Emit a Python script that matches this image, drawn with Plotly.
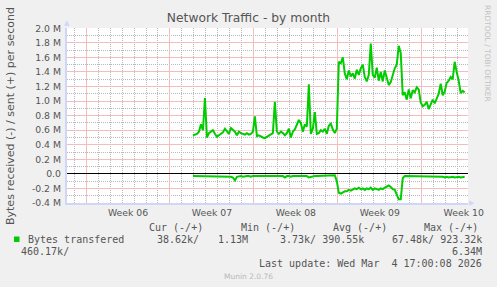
import plotly.graph_objects as go

# ---------------- data ----------------
week_labels = ["Week 06", "Week 07", "Week 08", "Week 09", "Week 10"]
week_start_days = [0, 7, 14, 21, 28]          # days since start of Week 06
day_grid = [d for d in range(-1, 32) if d not in week_start_days]

y_tick_vals = [-0.4, -0.2, 0.0, 0.2, 0.4, 0.6, 0.8, 1.0, 1.2, 1.4, 1.6, 1.8, 2.0]
y_tick_text = ["-0.4 M", "-0.2 M", "0.0", "0.2 M", "0.4 M", "0.6 M", "0.8 M",
               "1.0 M", "1.2 M", "1.4 M", "1.6 M", "1.8 M", "2.0 M"]
y_minor_vals = [-0.3, -0.1, 0.1, 0.3, 0.5, 0.7, 0.9, 1.1, 1.3, 1.5, 1.7, 1.9]

sample_start_hour = 214      # first sample: hours after start of Week 06
sample_step_hours = 4

# bytes sent per second (+), in millions
sent_M = [
    0.53, 0.54, 0.55, 0.58, 0.68, 0.60, 1.04, 0.50, 0.56, 0.58,
    0.60, 0.55, 0.51, 0.53, 0.55, 0.57, 0.62, 0.58, 0.55, 0.63,
    0.60, 0.58, 0.53, 0.58, 0.56, 0.55, 0.54, 0.56, 0.54, 0.55,
    0.58, 0.79, 0.52,
    0.53, 0.51, 0.50, 0.49, 0.51, 0.52, 0.54, 0.56, 0.99, 0.58,
    0.55, 0.58, 0.56, 0.53, 0.56, 0.62, 0.50, 0.58, 0.61, 0.68,
    0.74, 0.70, 0.58, 0.68, 0.65, 1.23, 0.55, 0.62, 0.85, 0.55,
    0.56, 0.60, 0.58, 0.62, 0.55, 0.66,
    0.69, 0.61, 0.56, 0.62, 1.54, 1.52, 1.60, 1.38, 1.30, 1.42,
    1.34, 1.38, 1.31, 1.43, 1.36, 1.45, 1.50, 1.33, 1.27, 1.36,
    1.79, 1.36, 1.32, 1.46, 1.28, 1.40, 1.27, 1.42, 1.30, 1.22,
    1.26, 1.36, 1.45, 1.50, 1.76,
    1.66, 1.08, 1.12, 1.02, 1.16, 1.04, 1.15, 1.12, 1.19, 1.16,
    0.98, 0.93, 0.95, 0.99, 0.89, 0.96, 1.02, 0.97, 1.04, 1.10,
    1.24, 1.08, 1.13, 1.25, 1.28, 1.33, 1.30, 1.54, 1.40, 1.28,
    1.11, 1.14, 1.12,
]

# bytes received per second (-), in millions (magnitude)
received_M = [
    0.03, 0.03, 0.04, 0.03, 0.04, 0.03, 0.03, 0.04, 0.03, 0.03,
    0.04, 0.03, 0.04, 0.03, 0.03, 0.03, 0.04, 0.03, 0.04, 0.04,
    0.05, 0.09, 0.04, 0.03, 0.03, 0.04, 0.03, 0.03, 0.03, 0.04,
    0.03, 0.03, 0.03,
    0.03, 0.03, 0.03, 0.04, 0.03, 0.03, 0.03, 0.04, 0.03, 0.03,
    0.03, 0.03, 0.03, 0.05, 0.03, 0.03, 0.04, 0.03, 0.03, 0.03,
    0.03, 0.03, 0.04, 0.03, 0.03, 0.05, 0.04, 0.03, 0.03, 0.03,
    0.03, 0.03, 0.03, 0.03, 0.02, 0.02,
    0.02, 0.02, 0.02, 0.10, 0.26, 0.27, 0.25, 0.24, 0.24, 0.22,
    0.23, 0.21, 0.20, 0.21, 0.19, 0.21, 0.20, 0.22, 0.20, 0.21,
    0.19, 0.22, 0.20, 0.21, 0.22, 0.20, 0.21, 0.19, 0.17, 0.16,
    0.18, 0.21, 0.22, 0.30, 0.35,
    0.35, 0.06, 0.03, 0.03, 0.04, 0.03, 0.03, 0.04, 0.03, 0.03,
    0.03, 0.04, 0.03, 0.04, 0.03, 0.03, 0.04, 0.03, 0.04, 0.03,
    0.03, 0.04, 0.05, 0.04, 0.05, 0.04, 0.04, 0.05, 0.04, 0.04,
    0.05, 0.04, 0.04,
]

legend_headers = ["Cur (-/+)", "Min (-/+)", "Avg (-/+)", "Max (-/+)"]
series_name = "Bytes transfered"
legend_cur = ["38.62k/", "460.17k/"]
legend_min = "1.13M"
legend_avg = "3.73k/ 390.55k"
legend_max = ["67.48k/ 923.32k", "6.34M"]
last_update = "Last update: Wed Mar\u00a0\u00a04 17:00:08 2026"

# ---------------- figure ----------------
W, H = 497, 287
L, R, T, B = 67, 29, 28, 84
PW, PH = W - L - R, H - T - B
x_range = [-1.59, 31.86]
y_range = [y_tick_vals[0], y_tick_vals[-1] + 0.004]

def px_x(px):
    return (px - L) / PW

def px_y(py):
    return (H - B - py) / PH

x_days = [(sample_start_hour + i * sample_step_hours) / 24 for i in range(len(sent_M))]

GREEN = "#00CC00"
TEXT = "#555555"
MGRID = "#F2BDBD"
GRID = "#B8B8B8"
AXIS = "#CFD6F8"
DASH = "1px,1px"

fig = go.Figure()
fig.add_trace(go.Scatter(x=x_days, y=sent_M, mode="lines",
                         line=dict(color=GREEN, width=2), hoverinfo="skip"))
fig.add_trace(go.Scatter(x=x_days, y=[-v for v in received_M], mode="lines",
                         line=dict(color=GREEN, width=2), hoverinfo="skip"))
# helper (empty) traces so that the overlay axes exist
fig.add_trace(go.Scatter(x=[], y=[], xaxis="x2", yaxis="y", hoverinfo="skip"))
fig.add_trace(go.Scatter(x=[], y=[], xaxis="x3", yaxis="y", hoverinfo="skip"))
fig.add_trace(go.Scatter(x=[], y=[], xaxis="x", yaxis="y2", hoverinfo="skip"))

fig.update_layout(
    width=W, height=H,
    margin=dict(l=L, r=R, t=T, b=B, pad=0),
    paper_bgcolor="#F0F0F0", plot_bgcolor="#FFFFFF",
    font=dict(family="DejaVu Sans", color=TEXT, size=9.3),
    showlegend=False,
    title=dict(text="Network Traffic - by month", x=0.5, xanchor="center",
               y=1 - 18 / H, yanchor="middle",
               font=dict(size=12.3, color=TEXT, family="DejaVu Sans")),
    # daily grid (gray)
    xaxis=dict(range=x_range, tickmode="array", tickvals=day_grid,
               showticklabels=False, ticks="",
               showgrid=True, gridcolor=GRID, griddash=DASH, gridwidth=1,
               zeroline=False, showline=True, linecolor=AXIS, linewidth=1.5),
    # weekly grid (red)
    xaxis2=dict(range=x_range, overlaying="x", anchor="y", side="bottom",
                tickmode="array", tickvals=week_start_days,
                showticklabels=False, ticks="",
                showgrid=True, gridcolor=MGRID, gridwidth=1,
                zeroline=False, showline=False),
    # week labels
    xaxis3=dict(range=x_range, overlaying="x", anchor="y", side="bottom",
                tickmode="array", tickvals=[s + 3.5 for s in week_start_days],
                ticktext=week_labels, showgrid=False, zeroline=False,
                ticks="", showline=False, ticklabelstandoff=3,
                tickfont=dict(size=9.3, color=TEXT)),
    # 0.1 M grid (gray) + zero line
    yaxis=dict(range=y_range, tickmode="array", tickvals=y_minor_vals,
               showticklabels=False, ticks="",
               showgrid=True, gridcolor=GRID, griddash=DASH, gridwidth=1,
               zeroline=True, zerolinecolor="#000000", zerolinewidth=1,
               showline=True, linecolor=AXIS, linewidth=1.5),
    # 0.2 M grid (red) + labels
    yaxis2=dict(range=y_range, overlaying="y", anchor="x", side="left",
                tickmode="array", tickvals=y_tick_vals, ticktext=y_tick_text,
                ticks="", ticklabelstandoff=5,
                showgrid=True, gridcolor=MGRID, gridwidth=1,
                zeroline=False, showline=False,
                tickfont=dict(size=9.3, color=TEXT)),
)

anns = []
def add_text(text, px, py, anchor="left", size=10, color=TEXT, family="DejaVu Sans Mono", angle=0):
    anns.append(dict(text=text, x=px_x(px), y=px_y(py), xref="paper", yref="paper",
                     xanchor=anchor, yanchor="middle", showarrow=False,
                     textangle=angle, borderpad=0,
                     font=dict(size=size, color=color, family=family)))

# y-axis title
add_text("Bytes received (-) / sent (+) per second", 10, 116, anchor="center",
         size=11, family="DejaVu Sans", angle=-90)
# watermark
add_text("RRDTOOL / TOBI OETIKER", 487.5, 53.5, anchor="center", size=7.5,
         color="#c2c2c2", family="DejaVu Sans", angle=90)
add_text("Munin 2.0.76", 248.3, 276.5, anchor="center", size=7.5,
         color="#b8b8b8", family="DejaVu Sans")
# axis arrows
add_text("\u25B2", 66.8, 23.5, anchor="center", size=7, color=AXIS, family="DejaVu Sans")
add_text("\u25B6", 471.5, 203, anchor="center", size=7, color=AXIS, family="DejaVu Sans")

# legend table
for text, px in zip(legend_headers, [147.7, 240.0, 332.0, 422.7]):
    add_text(text, px, 227.7)
add_text(series_name, 26.7, 239.3)
add_text(legend_cur[0], 155.7, 239.3)
add_text(legend_min, 216.7, 239.3)
add_text(legend_avg, 279.3, 239.3)
add_text(legend_max[0], 482.7, 239.3, anchor="right")
add_text(legend_cur[1], 20.0, 251.0)
add_text(legend_max[1], 482.7, 251.0, anchor="right")
add_text(last_update, 482.7, 263.3, anchor="right")

fig.update_layout(annotations=anns)

# legend colour swatch
fig.add_shape(type="rect", xref="paper", yref="paper",
              x0=px_x(14), x1=px_x(19.5), y0=px_y(242), y1=px_y(236.5),
              fillcolor=GREEN, line=dict(width=0))

fig.write_html("out.html")
